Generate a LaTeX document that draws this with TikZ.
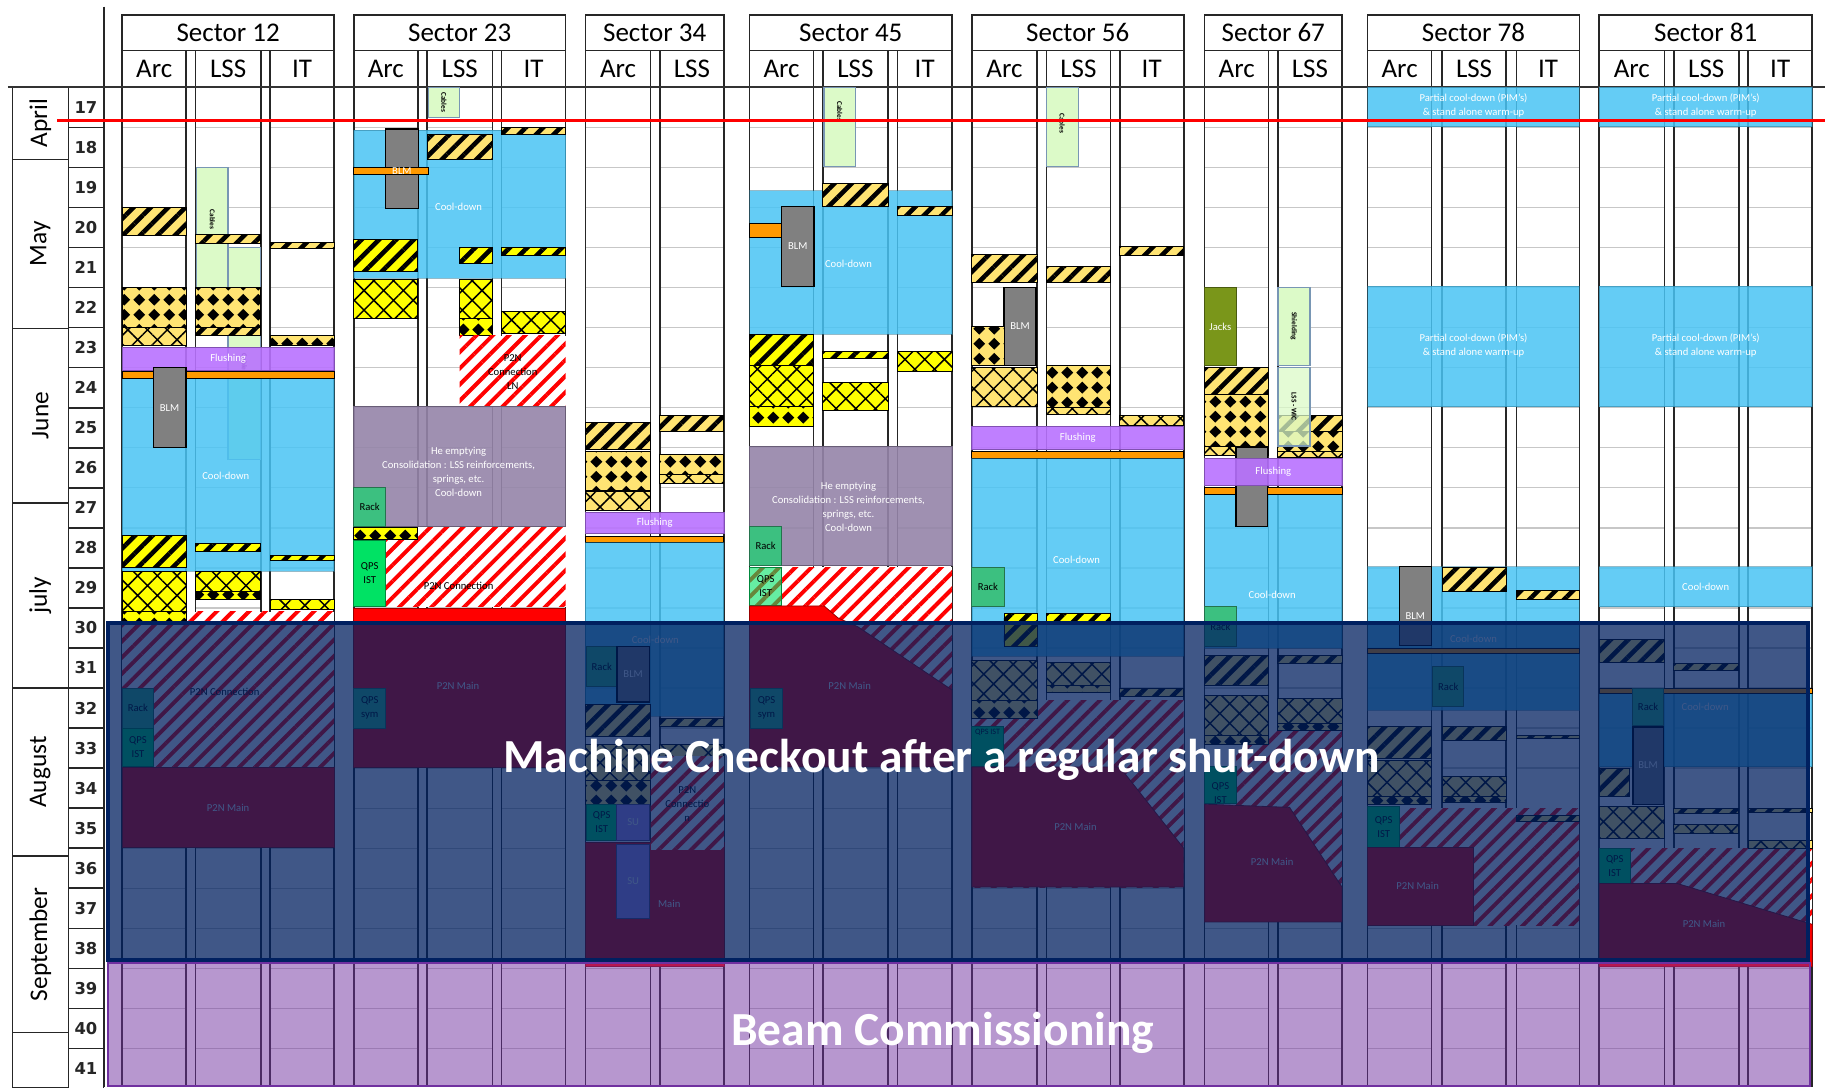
\documentclass[tikz,border=0pt]{standalone}
\usepackage{fontspec}
\setmainfont{Carlito}
\newfontfamily\wkfont{DejaVu Sans}
\usetikzlibrary{patterns,patterns.meta}
\definecolor{paleyel}{RGB}{255,228,115}
\definecolor{brightyel}{RGB}{255,255,0}
\definecolor{cooldown}{RGB}{73,196,244}
\definecolor{flushcol}{RGB}{185,114,255}
\definecolor{orangebar}{RGB}{255,153,0}
\definecolor{blmgray}{RGB}{128,128,128}
\definecolor{cablegreen}{RGB}{220,250,200}
\definecolor{cableedge}{RGB}{120,150,180}
\definecolor{mauvecol}{RGB}{149,133,169}
\definecolor{rackcol}{RGB}{60,192,128}
\definecolor{qpscol}{RGB}{0,226,100}
\definecolor{jackcol}{RGB}{122,150,26}
\definecolor{sucol}{RGB}{190,150,250}
\definecolor{mcnavy}{RGB}{0,32,96}
\definecolor{beampurple}{RGB}{112,48,160}
\pgfdeclarepatternformonly{diamonds}{\pgfpointorigin}{\pgfpoint{9pt}{9pt}}{\pgfpoint{9pt}{9pt}}{%
  \pgfpathmoveto{\pgfpoint{4.5pt}{0.8pt}}%
  \pgfpathlineto{\pgfpoint{8.2pt}{4.5pt}}%
  \pgfpathlineto{\pgfpoint{4.5pt}{8.2pt}}%
  \pgfpathlineto{\pgfpoint{0.8pt}{4.5pt}}%
  \pgfpathclose\pgfusepath{fill}}
\begin{document}
\begin{tikzpicture}[x=0.025cm,y=-0.86cm]
  \tikzstyle{cell}=[draw=black!85,line width=1pt]
  \tikzstyle{gridv}=[draw=black!85,line width=1pt]
  \tikzstyle{gridh}=[draw=black!22,line width=0.8pt]
  \tikzstyle{hdr}=[font=\fontsize{16.5}{18}\selectfont,inner sep=0pt]
  \tikzstyle{wk}=[font=\wkfont\bfseries\fontsize{10}{11}\selectfont,text=black!85,inner sep=0pt]
  \tikzstyle{mon}=[font=\fontsize{15.5}{17}\selectfont,rotate=90,inner sep=0pt]
  \tikzstyle{haz}=[draw=black,line width=0.6pt,fill=paleyel,postaction={pattern={Lines[angle=45,distance=7.5pt,line width=2.8pt]},pattern color=black}]
  \tikzstyle{hazb}=[haz,fill=brightyel]
  \tikzstyle{dia}=[draw=black,line width=0.6pt,fill=paleyel,postaction={pattern=diamonds,pattern color=black}]
  \tikzstyle{diab}=[dia,fill=brightyel]
  \tikzstyle{xh}=[draw=black,line width=0.6pt,fill=paleyel,postaction={pattern={Hatch[angle=45,distance=8.5pt,line width=0.9pt]},pattern color=black}]
  \tikzstyle{xhb}=[xh,fill=brightyel]
  \tikzstyle{cool}=[fill=cooldown,fill opacity=0.85,draw=cooldown!60!black,draw opacity=0.5,line width=0.6pt]
  \tikzstyle{flush}=[fill=flushcol,fill opacity=0.9,draw=flushcol!70!black,line width=0.5pt]
  \tikzstyle{obar}=[fill=orangebar,draw=black,line width=0.6pt]
  \tikzstyle{blm}=[fill=blmgray,draw=black,line width=0.8pt]
  \tikzstyle{cab}=[fill=cablegreen,draw=cableedge,line width=0.8pt]
  \tikzstyle{mauve}=[fill=mauvecol,fill opacity=0.9,draw=mauvecol!70!black,line width=0.5pt]
  \tikzstyle{rack}=[fill=rackcol,draw=rackcol!60!black,line width=0.6pt]
  \tikzstyle{qps}=[fill=qpscol,draw=qpscol!60!black,line width=0.6pt]
  \tikzstyle{jack}=[fill=jackcol,draw=jackcol!60!black,line width=0.6pt]
  \tikzstyle{su}=[fill=sucol,draw=sucol!50!black,line width=0.6pt]
  \tikzstyle{pcon}=[fill=white,postaction={pattern={Lines[angle=45,distance=7pt,line width=2.4pt]},pattern color=red}]
  \tikzstyle{pmain}=[fill=red,draw=red!60!black,line width=0.5pt]
  \tikzstyle{tw}=[text=white,font=\fontsize{6.5}{8.5}\selectfont,align=center,inner sep=0pt]
  \tikzstyle{tb}=[tw,text=black]
  \tikzstyle{trot}=[font=\bfseries\fontsize{4.5}{5}\selectfont,rotate=-90,inner sep=0pt]
  \tikzstyle{big}=[text=white,font=\bfseries\fontsize{29}{34}\selectfont,inner sep=0pt]

  \useasboundingbox (0,14.82) rectangle (1568,41.97);
  \fill[white] (0,14.82) rectangle (1568,41.97);

  \foreach \xl/\xr/\n in {105/287/12,304/486/23,503/622/34,644/818/45,835/1017/56,1035/1153/67,1175/1357/78,1374/1557/81}{
    \draw[cell] (\xl,15.195) rectangle (\xr,16.084);
    \node[hdr] (sec\n) at ({(\xl+\xr)/2},15.64) {Sector \n};
  }
  \foreach \a/\b/\lbl [count=\k] in {105/160/Arc,168/224/LSS,232/287/IT,304/359/Arc,367/423/LSS,431/486/IT,503/559/Arc,567/622/LSS,644/699/Arc,707/763/LSS,771/818/IT,835/891/Arc,899/954/LSS,962/1017/IT,1035/1090/Arc,1098/1153/LSS,1175/1230/Arc,1239/1294/LSS,1303/1357/IT,1374/1430/Arc,1438/1494/LSS,1502/1557/IT}{
    \foreach \w in {18,...,41} \draw[gridh] (\a,\w) -- (\b,\w);
    \draw[cell] (\a,16.084) rectangle (\b,17);
    \draw[gridv] (\a,17) -- (\a,41.97) (\b,17) -- (\b,41.97);
    \node[hdr] (col\k) at ({(\a+\b)/2},16.54) {\lbl};
  }
  \foreach \w in {17,...,41}{
    \draw[cell] (58.7,\w) rectangle (88.8,\w+1);
    \node[wk] (wk\w) at (73.8,\w+0.5) {\w};
  }
  \foreach \t/\u/\m [count=\k] in {17/18.8/April,18.8/23.02/May,23.02/27.38/June,27.38/32.0/july,32.0/36.2/August,36.2/40.6/September,40.6/41.97/}{
    \draw[cell] (10.6,\t) rectangle (58.7,\u);
    \node[mon] (mon\k) at (34.6,{(\t+\u)/2}) {\m};
  }
  \draw[gridv,line width=1.3pt] (89,14.985) -- (89,41.97);
  \draw[black!80,line width=1pt] (6.8,17) -- (1568,17);

  \path[haz] (105,20) rectangle (160,20.7);
  \path[cab] (169,19) rectangle (196,22);
  \path[cab] (196,21) rectangle (224,22);
  \path[cab] (196,23.2) rectangle (224,26.3);
  \node[trot] (c12a) at (182.5,20.3) {Cables};
  \node[trot] (c12b) at (210,23.9) {Cables};
  \path[haz] (168,20.67) rectangle (224,20.9);
  \path[haz] (232,20.88) rectangle (287,21.02);
  \path[dia] (105,22) rectangle (160,23);
  \path[xh] (105,23) rectangle (160,23.45);
  \path[dia] (168,22) rectangle (224,23);
  \path[haz] (168,23) rectangle (224,23.2);
  \path[dia] (232,23.2) rectangle (287,23.45);
  \path[flush] (105,23.49) rectangle (287,24.06);
  \node[tw] (fl12) at (196,23.78) {Flushing};
  \path[cool] (105,24.27) rectangle (287,29.08);
  \path[obar] (105,24.1) rectangle (287,24.27);
  \path[blm] (131.6,24) rectangle (159.8,26);
  \node[tw] (blm12) at (145.7,25) {BLM};
  \node[tw] (cd12) at (194,26.7) {Cool-down};
  \path[hazb] (105,28.2) rectangle (160,29);
  \path[hazb] (168,28.4) rectangle (224,28.6);
  \path[hazb] (232,28.7) rectangle (287,28.82);
  \path[pcon] (105,30.1) rectangle (287,34);
  \path[xhb] (105,29.1) rectangle (160,30.1);
  \path[diab] (105,30.1) rectangle (160,30.35);
  \path[xhb] (168,29.1) rectangle (224,29.6);
  \path[diab] (168,29.6) rectangle (224,29.8);
  \path[xhb] (232,29.8) rectangle (287,30.05);
  \node[tb] (pc12) at (193,32.1) {P2N Connection};
  \path[rack] (105,32) rectangle (132,33);
  \node[tb] (rk12) at (118.5,32.5) {Rack};
  \path[qps] (105,33) rectangle (132,33.95);
  \node[tb] (qp12) at (118.5,33.48) {QPS\\IST};
  \path[pmain] (105,33.97) rectangle (287,35.97);
  \node[tw] (pm12) at (196,35) {P2N Main};

  \path[cab] (368,17) rectangle (395,17.75);
  \node[trot] (c23) at (381.5,17.37) {Cables};
  \path[cool] (304,18.07) rectangle (486,21.77);
  \path[haz] (431,18) rectangle (486,18.17);
  \path[haz] (367,18.17) rectangle (423,18.8);
  \path[blm] (331.3,18.04) rectangle (359.4,20.03);
  \path[obar] (304,19) rectangle (368,19.18);
  \node[tw] (blm23) at (345.3,19.09) {BLM};
  \node[tw] (cd23) at (394,19.98) {Cool-down};
  \path[hazb] (304,20.79) rectangle (359,21.59);
  \path[hazb] (395,20.99) rectangle (423,21.39);
  \path[hazb] (431,20.99) rectangle (486,21.19);
  \path[xhb] (304,21.8) rectangle (359,22.78);
  \path[xhb] (395,21.8) rectangle (423,22.78);
  \path[diab] (395,22.78) rectangle (423,23.2);
  \path[xhb] (431,22.6) rectangle (486,23.15);
  \path[pcon] (395,23.2) rectangle (486,24.98);
  \node[tb] (pc23a) at (440.5,24.1) {P2N\\Connection\\LN};
  \path[mauve] (304,24.98) rectangle (486,27.97);
  \node[tw] (he23) at (394,26.6) {He emptying\\Consolidation : LSS reinforcements,\\springs, etc.\\Cool-down};
  \path[rack] (304,26.99) rectangle (331.3,27.97);
  \node[tb] (rk23) at (317.6,27.48) {Rack};
  \path[pcon] (331.3,27.99) rectangle (486,29.97);
  \path[diab] (304,27.99) rectangle (359,28.28);
  \path[qps] (304,28.31) rectangle (331.3,29.97);
  \node[tb] (qp23) at (317.6,29.14) {QPS\\IST};
  \node[tb] (pc23b) at (394,29.44) {P2N Connection};
  \path[pmain] (304,30) rectangle (486,33.97);
  \node[tw] (pm23) at (393.5,31.95) {P2N Main};
  \path[rack] (304,32) rectangle (331.5,33);
  \node[tb] (qs23) at (317.7,32.5) {QPS\\sym};

  \path[haz] (503,25.38) rectangle (559,26.05);
  \path[dia] (503,26.1) rectangle (559,27.06);
  \path[xh] (503,27.08) rectangle (559,27.57);
  \path[haz] (567,25.2) rectangle (622,25.6);
  \path[dia] (567,26.17) rectangle (622,26.67);
  \path[xh] (567,26.67) rectangle (622,26.88);
  \path[flush] (503,27.61) rectangle (622,28.15);
  \node[tw] (fl34) at (562.5,27.88) {Flushing};
  \path[obar] (503,28.22) rectangle (622,28.37);
  \path[cool] (503,28.37) rectangle (622,32.7);
  \node[tw] (cd34) at (563,30.8) {Cool-down};
  \path[rack] (504,30.97) rectangle (530,31.97);
  \node[tb] (rk34) at (517,31.47) {Rack};
  \path[blm] (530,30.97) rectangle (558,32.35);
  \node[tw] (blm34) at (544,31.66) {BLM};
  \path[haz] (503,32.4) rectangle (559,33.2);
  \path[haz] (567,32.76) rectangle (622,32.97);
  \path[pmain] (503,35.85) rectangle (622,38.96);
  \path[xh] (503,33.4) rectangle (559,34.3);
  \path[dia] (503,34.3) rectangle (559,34.9);
  \path[xh] (567,33.4) rectangle (622,33.7);
  \path[pcon] (559,33.7) rectangle (622,36.05);
  \node[tb] (pc34) at (590.5,34.9) {P2N\\Connectio\\n};
  \path[qps] (504,34.9) rectangle (530,35.8);
  \node[tb] (qp34) at (517,35.35) {QPS\\IST};
  \path[su] (530,34.9) rectangle (558,35.8);
  \node[tw] (su34a) at (544,35.35) {SU};
  \path[su] (530,35.9) rectangle (558,37.76);
  \node[tw] (su34b) at (544,36.83) {SU};
  \node[tw] (mn34) at (575,37.38) {Main};

  \path[cab] (708,17) rectangle (735,18.98);
  \node[trot] (c45) at (721.5,17.6) {Cables};
  \path[cool] (644,19.58) rectangle (818,23.17);
  \path[haz] (707,19.39) rectangle (763,19.98);
  \path[haz] (771,19.98) rectangle (818,20.19);
  \node[tw] (cd45) at (729,21.41) {Cool-down};
  \path[obar] (644,20.39) rectangle (671.6,20.76);
  \path[blm] (671.6,19.98) rectangle (699.3,21.97);
  \node[tw] (blm45) at (685.5,20.97) {BLM};
  \path[hazb] (644,23.17) rectangle (699,23.95);
  \path[xhb] (644,23.95) rectangle (699,24.98);
  \path[diab] (644,24.98) rectangle (699,25.47);
  \path[hazb] (707,23.6) rectangle (763,23.78);
  \path[xhb] (707,24.38) rectangle (763,25.07);
  \path[xhb] (771,23.6) rectangle (818,24.09);
  \path[mauve] (644,25.96) rectangle (818,28.95);
  \node[tw] (he45) at (729,27.48) {He emptying\\Consolidation : LSS reinforcements,\\springs, etc.\\Cool-down};
  \path[rack] (644,27.97) rectangle (671.6,28.95);
  \node[tb] (rk45) at (657.8,28.46) {Rack};
  \path[pcon] (644,28.99) rectangle (818,32.05);
  \path[qps,fill opacity=0.6] (644,28.99) rectangle (671.6,29.93);
  \node[tb] (qp45) at (657.8,29.46) {QPS\\IST};
  \path[pmain] (644,29.95) -- (708,29.95) -- (720,30.25) -- (737,30.47) -- (818,32.05) -- (818,33.97) -- (644,33.97) -- cycle;
  \node[tw] (pm45) at (730,31.95) {P2N Main};
  \path[rack] (644.7,32) rectangle (672.5,33);
  \node[tb] (qs45) at (658.6,32.5) {QPS\\sym};

  \path[cab] (899,17) rectangle (926.5,18.98);
  \node[trot] (c56) at (912.7,17.9) {Cables};
  \path[haz] (835,21.17) rectangle (891,21.88);
  \path[haz] (899,21.47) rectangle (954,21.88);
  \path[haz] (962,20.97) rectangle (1017,21.19);
  \path[blm] (862.6,21.99) rectangle (890.1,23.95);
  \node[tw] (blm56) at (876.3,22.97) {BLM};
  \path[dia] (835,22.97) rectangle (862.6,23.95);
  \path[xh] (835,23.99) rectangle (891,24.98);
  \path[dia] (899,23.95) rectangle (954,25);
  \path[xh] (899,25) rectangle (954,25.16);
  \path[xh] (962,25.19) rectangle (1017,25.45);
  \path[flush] (835,25.47) rectangle (1017,26.05);
  \node[tw] (fl56) at (926,25.76) {Flushing};
  \path[obar] (835,26.1) rectangle (1017,26.27);
  \path[cool] (835,26.27) rectangle (1017,31.2);
  \node[tw] (cd56) at (925,28.79) {Cool-down};
  \path[rack] (835,28.99) rectangle (862.6,29.97);
  \node[tb] (rk56) at (848.8,29.48) {Rack};
  \path[hazb] (862.6,30.15) rectangle (891,30.97);
  \path[hazb] (899,30.15) rectangle (954,30.33);
  \path[pcon] (835,32.3) rectangle (1017,36.97);
  \path[xh] (835,31.3) rectangle (891,32.3);
  \path[dia] (835,32.3) rectangle (891,32.76);
  \path[xh] (899,31.35) rectangle (954,31.93);
  \path[dia] (899,31.93) rectangle (954,32.1);
  \path[haz] (962,32) rectangle (1017,32.2);
  \path[qps] (835,32.97) rectangle (862,33.97);
  \node[tb,font=\fontsize{5}{6}\selectfont] (qp56) at (848.5,33.1) {QPS IST};
  \path[pmain] (835,33.97) -- (962,33.97) -- (1017,36) -- (1017,36.97) -- (835,36.97) -- cycle;
  \node[tw] (pm56) at (924,35.47) {P2N Main};

  \path[jack] (1035,21.99) rectangle (1062,23.95);
  \node[tw] (jk67) at (1048.5,22.97) {Jacks};
  \path[haz] (1035,23.99) rectangle (1090,24.67);
  \path[dia] (1035,24.67) rectangle (1090,25.96);
  \path[xh] (1035,25.96) rectangle (1090,26.2);
  \path[cab] (1098,21.99) rectangle (1125.5,23.95);
  \node[trot] (sh67) at (1111.7,22.97) {Shielding};
  \path[haz] (1098,25.2) rectangle (1153,25.6);
  \path[dia] (1098,25.6) rectangle (1153,26.1);
  \path[xh] (1098,26.1) rectangle (1153,26.25);
  \path[cab,fill opacity=0.75] (1098,23.99) rectangle (1125.5,25.96);
  \node[trot] (ws67) at (1111.7,24.97) {LSS - WIC};
  \path[cool] (1035,27.17) rectangle (1153,31);
  \path[obar] (1035,26.99) rectangle (1153,27.17);
  \path[blm] (1062,25.99) rectangle (1089,27.97);
  \path[flush] (1035,26.27) rectangle (1153,26.94);
  \node[tw] (fl67) at (1094,26.6) {Flushing};
  \node[tw] (cd67) at (1093,29.68) {Cool-down};
  \path[rack] (1035,29.97) rectangle (1062,30.97);
  \node[tb] (rk67) at (1048.5,30.47) {Rack};
  \path[haz] (1035,31.18) rectangle (1090,31.93);
  \path[haz] (1098,31.18) rectangle (1153,31.39);
  \path[pcon] (1062,33.05) rectangle (1153,37.84);
  \path[xh] (1035,32.18) rectangle (1090,33.18);
  \path[dia] (1035,33.18) rectangle (1090,33.4);
  \path[xh] (1098,32.26) rectangle (1153,32.89);
  \path[dia] (1098,32.89) rectangle (1153,33.05);
  \path[qps] (1035,33.97) rectangle (1062,34.88);
  \node[tb] (qp67) at (1048.5,34.63) {QPS\\IST};
  \path[pmain] (1035,34.9) -- (1108,34.98) -- (1153,36.97) -- (1153,37.84) -- (1035,37.84) -- cycle;
  \node[tw] (pm67) at (1093,36.34) {P2N Main};

  \path[cool] (1175,17) rectangle (1357,17.98);
  \node[tw] (pc78a) at (1266,17.45) {Partial cool-down (PIM's)\\\& stand alone warm-up};
  \path[cool] (1175,21.97) rectangle (1357,24.98);
  \node[tw] (pc78b) at (1266,23.45) {Partial cool-down (PIM's)\\\& stand alone warm-up};
  \path[cool] (1175,28.97) rectangle (1357,32.55);
  \node[tw] (cd78) at (1266,30.76) {Cool-down};
  \path[blm] (1202.3,28.97) rectangle (1230,30.93);
  \node[tw] (blm78) at (1216,30.2) {BLM};
  \path[haz] (1239,28.99) rectangle (1294,29.59);
  \path[haz] (1303,29.57) rectangle (1357,29.8);
  \path[obar] (1175,31) rectangle (1357,31.14);
  \path[rack] (1231,31.47) rectangle (1257.6,32.47);
  \node[tb] (rk78) at (1244.3,31.97) {Rack};
  \path[pcon] (1202.6,35) rectangle (1357,37.92);
  \path[haz] (1175,32.97) rectangle (1230,33.76);
  \path[xh] (1175,33.8) rectangle (1230,34.7);
  \path[dia] (1175,34.7) rectangle (1230,34.9);
  \path[haz] (1239,32.97) rectangle (1294,33.3);
  \path[xh] (1239,34.2) rectangle (1294,34.7);
  \path[dia] (1239,34.7) rectangle (1294,34.85);
  \path[haz] (1303,33.18) rectangle (1357,33.26);
  \path[haz] (1303,35.18) rectangle (1357,35.34);
  \path[qps] (1175,34.97) rectangle (1202.6,35.97);
  \node[tb] (qp78) at (1188.8,35.47) {QPS\\IST};
  \path[pmain] (1175,35.97) rectangle (1265.6,37.92);
  \node[tw] (pm78) at (1218,36.95) {P2N Main};

  \path[cool] (1374,17) rectangle (1557,17.98);
  \node[tw] (pc81a) at (1465.5,17.45) {Partial cool-down (PIM's)\\\& stand alone warm-up};
  \path[cool] (1374,21.97) rectangle (1557,24.98);
  \node[tw] (pc81b) at (1465.5,23.45) {Partial cool-down (PIM's)\\\& stand alone warm-up};
  \path[cool] (1374,28.97) rectangle (1557,29.97);
  \node[tw] (cd81a) at (1465.5,29.47) {Cool-down};
  \path[haz] (1374,30.8) rectangle (1430,31.35);
  \path[haz] (1438,31.39) rectangle (1494,31.55);
  \path[cool] (1374,32.14) rectangle (1557,33.97);
  \path[obar] (1374,32) rectangle (1557,32.14);
  \node[tw] (cd81b) at (1465,32.47) {Cool-down};
  \path[rack] (1403,32) rectangle (1429,32.93);
  \node[tb] (rk81) at (1416,32.47) {Rack};
  \path[blm] (1403,32.97) rectangle (1429,34.9);
  \node[tw] (blm81) at (1416,33.93) {BLM};
  \path[haz] (1374,34) rectangle (1400,34.7);
  \path[xh] (1374,34.97) rectangle (1430,35.76);
  \path[haz] (1438,35) rectangle (1494,35.13);
  \path[xh] (1438,35.4) rectangle (1494,35.63);
  \path[haz] (1502,35) rectangle (1557,35.1);
  \path[pcon] (1400.7,36) rectangle (1557,38.96);
  \path[xh] (1502,35.8) rectangle (1557,36);
  \path[qps] (1374,36) rectangle (1400.7,36.88);
  \node[tb] (qp81) at (1387.4,36.44) {QPS\\IST};
  \path[pmain] (1374,36.88) -- (1441,36.88) -- (1557,37.9) -- (1557,38.96) -- (1374,38.96) -- cycle;
  \node[tw] (pm81) at (1464,37.9) {P2N Main};

  \draw[red,line width=1.5pt] (49,17.834) -- (1568,17.834);

  \path[fill=mcnavy,fill opacity=0.75,draw=mcnavy,line width=2.5pt] (93,30.37) rectangle (1553,38.8);
  \path[fill=beampurple,fill opacity=0.5,draw=beampurple,line width=1.5pt] (93,38.86) rectangle (1555,41.93);
  \node[big] (mc) at (809,33.8) {Machine Checkout after a regular shut-down};
  \node[big] (bc) at (810,40.6) {Beam Commissioning};
\end{tikzpicture}
\end{document}
